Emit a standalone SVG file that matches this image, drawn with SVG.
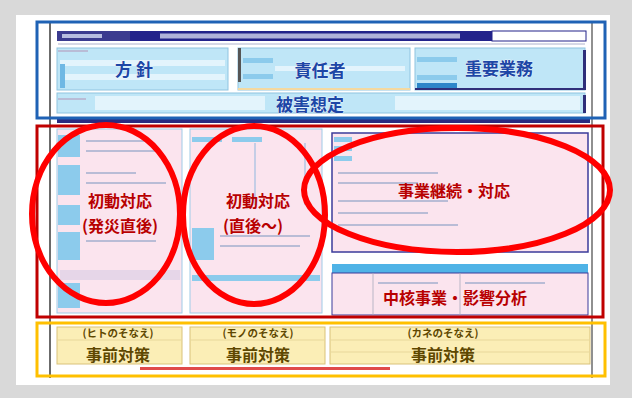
<svg xmlns="http://www.w3.org/2000/svg" width="632" height="398" viewBox="0 0 632 398">
<defs>
<style>
.jp{font-family:"Noto Sans CJK JP","Noto Sans",sans-serif;font-weight:700;text-anchor:middle}
.lb{fill:#1d46a6;font-size:17px;stroke:#ffffff;stroke-width:0.6px;paint-order:stroke}
.lr{fill:#b80000;font-size:16px}
.ly{fill:#5e4700}
.sky{fill:#bfe6f7;stroke:#8fc4e0;stroke-width:1}
.sky2{fill:#e3f4fc}
.cell{fill:#8ccbec}
.pink{fill:#fbe4ee;stroke:#9fcbe8;stroke-width:1}
.yel{fill:#fbeeb6;stroke:#d9c27a;stroke-width:1}
.txt{fill:#b9bcd6}
.frame{fill:none;stroke-width:3}
.ring{fill:none;stroke:#ff0000;stroke-width:6}
</style>
</defs>
<rect x="0" y="0" width="632" height="398" fill="#d9d9d9"/>
<rect x="16" y="15" width="594" height="370" fill="#ffffff"/>
<line x1="50" y1="22" x2="50" y2="378" stroke="#6b6b6b" stroke-width="2"/>
<line x1="592" y1="22" x2="592" y2="378" stroke="#6b6b6b" stroke-width="1.5"/>

<g id="header">
<rect x="57" y="31" width="73" height="10" fill="#3b3b8f"/>
<rect x="62" y="34" width="40" height="4" fill="#b7bde0"/>
<rect x="130" y="31" width="362" height="10" fill="#22228a"/>
<rect x="160" y="33.5" width="300" height="5" fill="#c9cbe8" opacity="0.85"/>
<rect x="492" y="31" width="94" height="10" fill="#ffffff" stroke="#22228a" stroke-width="1"/>
<rect x="58" y="43" width="527" height="2" fill="#d7d9e6"/>
</g>

<g id="policy">
<rect class="sky" x="57" y="48" width="171" height="42"/>
<rect class="sky2" x="60" y="60" width="165" height="6"/>
<rect class="sky2" x="60" y="74" width="165" height="6"/>
<rect x="60" y="64" width="5" height="24" fill="#6fb8e4"/>
<rect class="txt" x="58" y="50" width="30" height="2"/>
<text class="jp lb" x="134" y="76">方 針</text>
</g>

<g id="responsible">
<rect class="sky" x="238" y="48" width="172" height="42"/>
<rect x="238" y="48" width="3" height="34" fill="#555"/>
<rect class="cell" x="243" y="58" width="30" height="5"/>
<rect class="cell" x="243" y="74" width="30" height="5"/>
<rect class="sky2" x="275" y="66" width="130" height="5"/>
<rect x="238" y="88" width="172" height="2" fill="#f4d9a0"/>
<text class="jp lb" x="320" y="77">責任者</text>
</g>

<g id="key-business">
<rect class="sky" x="415" y="48" width="170" height="42"/>
<rect class="cell" x="417" y="57" width="40" height="5"/>
<rect class="cell" x="417" y="75" width="40" height="5"/>
<rect x="417" y="83" width="40" height="5" fill="#2d86c9"/>
<rect x="583" y="50" width="3" height="40" fill="#2f2f7a"/>
<rect x="415" y="88" width="170" height="2" fill="#2f2f7a"/>
<text class="jp lb" x="499" y="75">重要業務</text>
</g>

<g id="damage">
<rect class="sky" x="57" y="93" width="528" height="20"/>
<rect class="sky2" x="95" y="96" width="170" height="14"/>
<rect class="sky2" x="395" y="96" width="185" height="14"/>
<rect class="txt" x="58" y="98" width="28" height="2"/>
<rect x="583" y="95" width="3" height="18" fill="#2f2f7a"/>
<text class="jp lb" x="310" y="111">被害想定</text>
</g>
<rect x="57" y="118" width="533" height="5" fill="#2a2a80"/>

<g id="initial-response-1">
<rect class="pink" x="57" y="129" width="125" height="184"/>
<rect class="cell" x="58" y="135" width="22" height="22"/>
<rect class="cell" x="58" y="165" width="22" height="30"/>
<rect class="cell" x="58" y="205" width="22" height="20"/>
<rect class="cell" x="58" y="232" width="22" height="28"/>
<rect class="cell" x="58" y="283" width="22" height="25"/>
<rect x="60" y="270" width="120" height="10" fill="#e6d6e8"/>
<rect class="txt" x="86" y="140" width="60" height="2"/>
<rect class="txt" x="86" y="150" width="70" height="2"/>
<rect class="txt" x="86" y="172" width="50" height="2"/>
<rect class="txt" x="86" y="182" width="80" height="2"/>
<rect class="txt" x="86" y="240" width="70" height="2"/>
<text class="jp lr" x="120" y="207">初動対応</text>
<text class="jp lr" x="120" y="232">(発災直後)</text>
</g>

<g id="initial-response-2">
<rect class="pink" x="190" y="129" width="132" height="184"/>
<rect class="cell" x="192" y="137" width="30" height="5"/>
<rect class="cell" x="232" y="137" width="30" height="5"/>
<rect class="cell" x="192" y="228" width="22" height="32"/>
<rect class="cell" x="192" y="275" width="128" height="6"/>
<line x1="255" y1="143" x2="255" y2="205" stroke="#8fb7de" stroke-width="1"/>
<line x1="305" y1="143" x2="305" y2="205" stroke="#8fb7de" stroke-width="1"/>
<rect class="txt" x="220" y="235" width="90" height="2"/>
<rect class="txt" x="220" y="245" width="80" height="2"/>
<text class="jp lr" x="258" y="207">初動対応</text>
<text class="jp lr" x="253" y="232">(直後〜)</text>
</g>

<g id="business-continuity">
<rect x="332" y="133" width="256" height="119" fill="#fbe4ee" stroke="#3b3b9a" stroke-width="1.5"/>
<rect class="cell" x="334" y="137" width="18" height="5"/>
<rect class="cell" x="334" y="146" width="18" height="5"/>
<rect class="cell" x="334" y="156" width="18" height="5"/>
<rect class="txt" x="338" y="172" width="100" height="2"/>
<rect class="txt" x="338" y="182" width="80" height="2"/>
<rect class="txt" x="338" y="200" width="110" height="2"/>
<rect class="txt" x="338" y="212" width="90" height="2"/>
<rect class="txt" x="338" y="224" width="120" height="2"/>
<text class="jp lr" x="454" y="197">事業継続・対応</text>
</g>

<g id="impact-analysis">
<rect x="332" y="264" width="256" height="9" fill="#4fb3e6"/>
<rect x="332" y="273" width="256" height="42" fill="#fbe4ee" stroke="#3b3b9a" stroke-width="1"/>
<line x1="373" y1="273" x2="373" y2="315" stroke="#aab" stroke-width="0.8"/>
<line x1="460" y1="273" x2="460" y2="315" stroke="#aab" stroke-width="0.8"/>
<rect class="txt" x="378" y="282" width="60" height="2"/>
<rect class="txt" x="465" y="282" width="80" height="2"/>
<text class="jp lr" x="455" y="304">中核事業・影響分析</text>
</g>

<g id="prep-people">
<rect class="yel" x="57" y="327" width="125" height="37"/>
<line x1="57" y1="340" x2="182" y2="340" stroke="#e8d79a" stroke-width="1"/>
<text class="jp ly" x="118" y="337" font-size="10.5">(ヒトのそなえ)</text>
<text class="jp ly" x="118" y="361" font-size="16">事前対策</text>
</g>
<g id="prep-things">
<rect class="yel" x="190" y="327" width="135" height="37"/>
<line x1="190" y1="340" x2="325" y2="340" stroke="#e8d79a" stroke-width="1"/>
<text class="jp ly" x="258" y="337" font-size="10.5">(モノのそなえ)</text>
<text class="jp ly" x="258" y="361" font-size="16">事前対策</text>
</g>
<g id="prep-money">
<rect class="yel" x="330" y="327" width="260" height="37"/>
<line x1="330" y1="340" x2="590" y2="340" stroke="#e8d79a" stroke-width="1"/>
<line x1="330" y1="352" x2="590" y2="352" stroke="#e8d79a" stroke-width="1"/>
<text class="jp ly" x="443" y="337" font-size="10.5">(カネのそなえ)</text>
<text class="jp ly" x="443" y="361" font-size="16">事前対策</text>
</g>
<rect x="140" y="367" width="250" height="3" fill="#e04a4a"/>

<g id="frames">
<rect class="frame" x="37" y="22" width="568" height="96" stroke="#1f62b5"/>
<rect class="frame" x="37" y="126" width="566" height="191" stroke="#c00000"/>
<rect class="frame" x="37" y="323" width="568" height="53" stroke="#ffc000"/>
</g>

<g id="highlights">
<ellipse class="ring" cx="106" cy="214" rx="74" ry="89"/>
<ellipse class="ring" cx="254" cy="215" rx="71" ry="89"/>
<ellipse class="ring" cx="457" cy="190" rx="153" ry="62"/>
</g>
<g id="connectors"/>
</svg>
